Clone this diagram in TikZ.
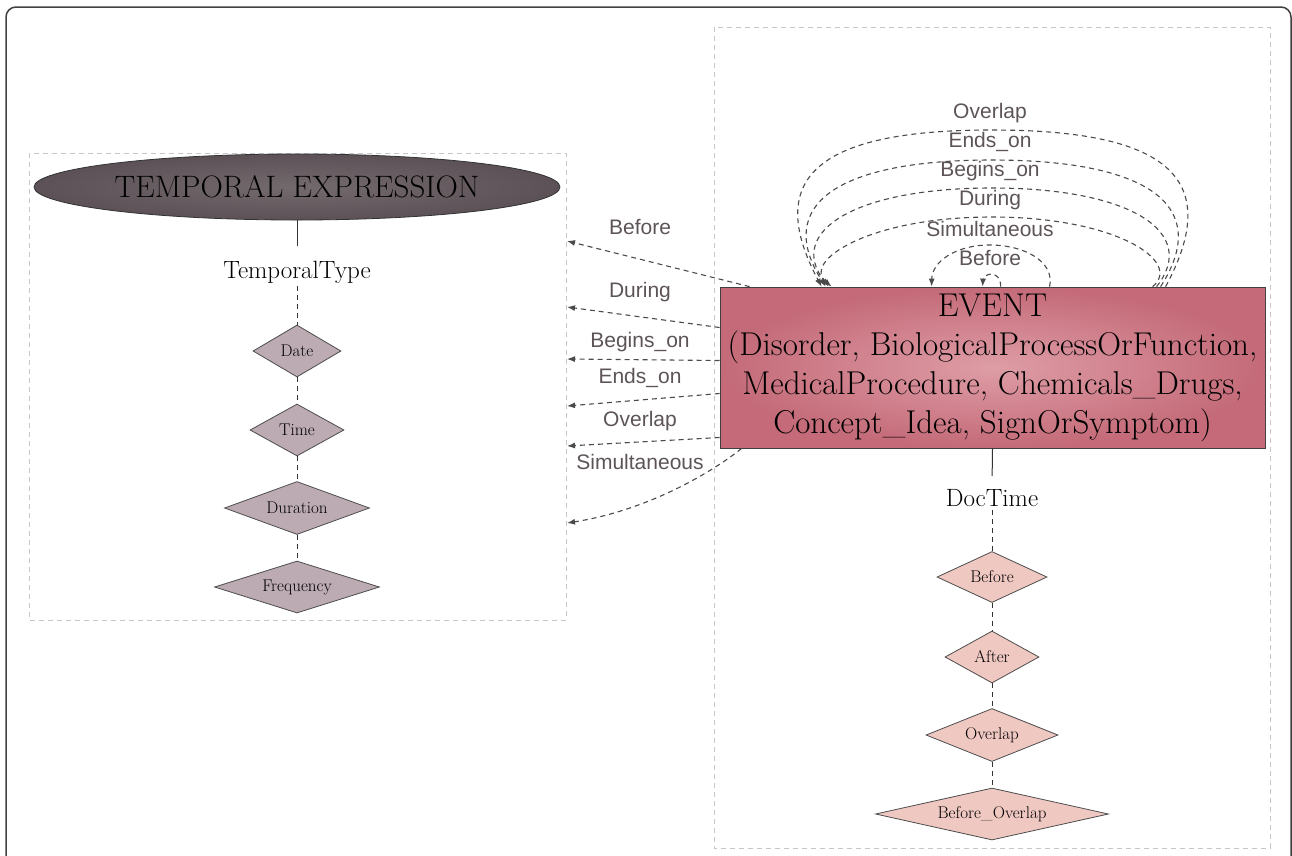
\documentclass[tikz,border=0pt]{standalone}
\usepackage{fontspec}
\setsansfont{Liberation Sans}
\usetikzlibrary{shapes.geometric,arrows.meta,calc,positioning}

\definecolor{tedark}{HTML}{5C5156}
\definecolor{telight}{HTML}{736A6E}
\definecolor{evdark}{HTML}{C46A78}
\definecolor{evlight}{HTML}{DE9DA6}
\definecolor{tattr}{HTML}{BCABB2}
\definecolor{dattr}{HTML}{F0C8C2}
\definecolor{relgray}{HTML}{4A4A4A}
\definecolor{labgray}{HTML}{5D5458}

\tikzset{
  cluster/.style={draw=gray!45, dash pattern=on 5pt off 4pt, line width=1pt},
  attr/.style={diamond, draw=black!70, line width=0.8pt, inner sep=0pt,
    font=\fontsize{17}{20}\selectfont},
  rel/.style={draw=relgray, dash pattern=on 5pt off 4pt, line width=1.1pt,
    -{Latex[length=8pt,width=6pt]}},
  rlabel/.style={text=labgray, font=\sffamily\fontsize{21}{24}\selectfont, inner sep=1pt},
  typelabel/.style={font=\fontsize{25}{29}\selectfont, inner sep=3pt},
  tie/.style={draw=black!80, line width=1pt},
  dtie/.style={draw=black!80, line width=1pt, dash pattern=on 5pt off 4pt},
}

\begin{document}
\begin{tikzpicture}[x=1pt,y=-1pt]
\useasboundingbox (0,0) rectangle (1292,855);

% frame and clusters
\draw[black!75, line width=1.5pt, rounded corners=10pt] (6,860) -- (6,7) -- (1291,7) -- (1291,860);
\draw[cluster] (29,153) rectangle (566,620);
\draw[cluster] (714,27) rectangle (1270,848);

% temporal expression
\node[ellipse, draw=black!80, line width=0.8pt, inner color=telight, outer color=tedark,
  minimum width=526pt, minimum height=66pt, inner sep=0pt,
  font=\fontsize{31}{36}\selectfont] (texp) at (297,187) {TEMPORAL EXPRESSION};
\node[typelabel] (ttype) at (297,272) {TemporalType};
\node[attr, fill=tattr, aspect=1.69, minimum width=88pt, minimum height=52pt] (date) at (297,351) {Date};
\node[attr, fill=tattr, aspect=1.81, minimum width=94pt, minimum height=52pt] (time) at (297,430) {Time};
\node[attr, fill=tattr, aspect=2.74, minimum width=145pt, minimum height=53pt] (duration) at (297,508) {Duration};
\node[attr, fill=tattr, aspect=3.17, minimum width=165pt, minimum height=52pt] (freq) at (297,587) {Frequency};

\draw[tie, shorten >=12pt] (texp.south) -- (ttype.north);
\foreach \a/\b in {ttype/date, date/time, time/duration, duration/freq}
  \draw[dtie] (\a) -- (\b);

% event
\node[rectangle, draw=black!75, line width=0.8pt, inner color=evlight, outer color=evdark,
  minimum width=545pt, minimum height=161pt, align=center,
  font=\fontsize{33}{39}\selectfont] (event) at (992.5,367.5)
  {EVENT\\(Disorder, BiologicalProcessOrFunction,\\MedicalProcedure, Chemicals\_Drugs,\\Concept\_Idea, SignOrSymptom)};
\node[typelabel] (doctime) at (992,498) {DocTime};
\node[attr, fill=dattr, aspect=2.16, minimum width=110pt, minimum height=51pt] (dbefore) at (992,577) {Before};
\node[attr, fill=dattr, aspect=1.81, minimum width=94pt, minimum height=52pt] (dafter) at (992,657) {After};
\node[attr, fill=dattr, aspect=2.49, minimum width=132pt, minimum height=53pt] (doverlap) at (992,735) {Overlap};
\node[attr, fill=dattr, aspect=4.48, minimum width=233pt, minimum height=52pt] (dbeforeoverlap) at (992,814) {Before\_Overlap};

\draw[tie, shorten >=10pt] (event.south) -- (doctime.north);
\foreach \a/\b in {doctime/dbefore, dbefore/dafter, dafter/doverlap, doverlap/dbeforeoverlap}
  \draw[dtie] (\a) -- (\b);

% event -> temporal expression
\coordinate (tBefore) at (567,241);
\coordinate (tDuring) at (567,307);
\coordinate (tBegins) at (567,359);
\coordinate (tEnds) at (567,406);
\coordinate (tOverlap) at (567,446);
\coordinate (tSimul) at (567,523);
\draw[rel] ($(event.north west)+(30,0)$) -- (tBefore);
\draw[rel] ($(event.west)+(0,-40)$) -- (tDuring);
\draw[rel] ($(event.west)+(0,-7)$) -- (tBegins);
\draw[rel] ($(event.west)+(0,26)$) -- (tEnds);
\draw[rel] ($(event.west)+(0,70)$) -- (tOverlap);
\draw[rel] ($(event.south west)+(22,0)$) .. controls (715,470) and (650,510) .. (tSimul);
\node[rlabel] (lbefore) at (640,227) {Before};
\node[rlabel] (lduring) at (640,292) {During};
\node[rlabel] (lbegins) at (640,342) {Begins\_on};
\node[rlabel] (lends) at (640,378) {Ends\_on};
\node[rlabel] (loverlap) at (640,421) {Overlap};
\node[rlabel] (lsimul) at (640,462) {Simultaneous};

% event -> event
\foreach \xl/\xr/\yt/\e/\w in {822/1166/130/60/170, 826/1161/160/52/155, 829/1157/188/42/140, 832/1153/217/30/125}
  \draw[rel] ($(event.north west)+(\xr-720,0)$) .. controls (\xr+\e,\yt+45) and (992+\w,\yt) .. (992,\yt)
    .. controls (992-\w,\yt) and (\xl-\e,\yt+45) .. ($(event.north west)+(\xl-720,0)$);
\draw[rel] ($(event.north west)+(330,0)$) .. controls (1055,262) and (1025,245) .. (990,245)
  .. controls (955,245) and (932,262) .. ($(event.north west)+(212,0)$);
\draw[rel] ($(event.north west)+(281,0)$) .. controls (1001,278) and (996,274) .. (991,274)
  .. controls (986,274) and (983,279) .. ($(event.north west)+(263,0)$);
\node[rlabel] (soverlap) at (990,113) {Overlap};
\node[rlabel] (sends) at (990,142) {Ends\_on};
\node[rlabel] (sbegins) at (990,171) {Begins\_on};
\node[rlabel] (sduring) at (990,200) {During};
\node[rlabel] (ssimul) at (990,229) {Simultaneous};
\node[rlabel] (sbefore) at (990,258) {Before};
\end{tikzpicture}
\end{document}
